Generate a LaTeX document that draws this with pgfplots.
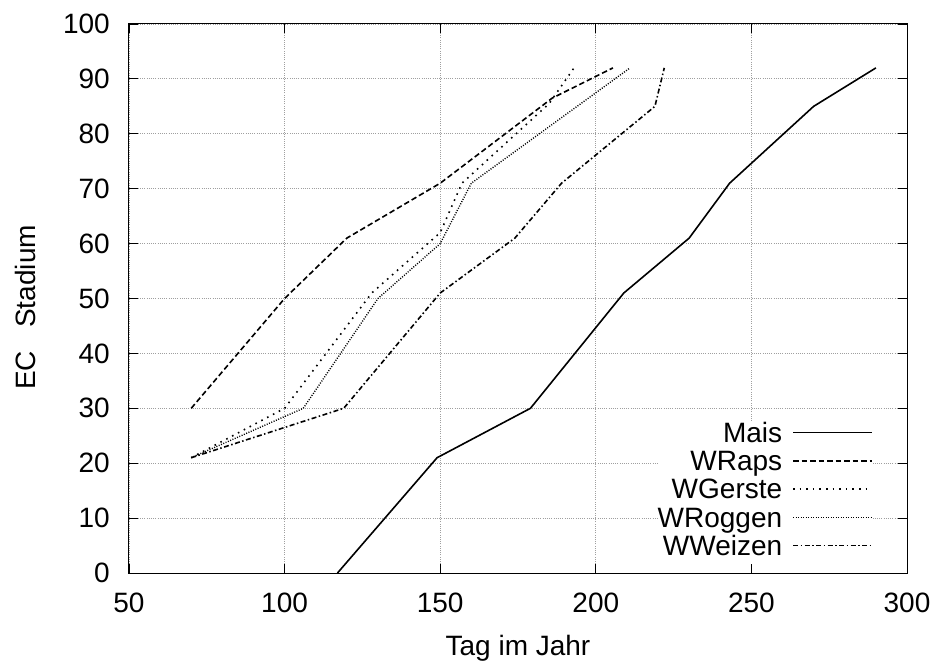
\documentclass[border=0pt]{standalone}
\usepackage{pgfplots}
\pgfplotsset{compat=1.18}
\usepackage{fontspec}
\setmainfont{Liberation Sans}
\begin{document}
\begin{tikzpicture}
\useasboundingbox (-129bp,-89bp) rectangle (806bp,573bp);
\begin{axis}[
  at={(0,0)}, anchor=south west,
  scale only axis, width=778bp, height=549bp,
  xmin=50, xmax=300, ymin=0, ymax=100,
  xtick={50,100,...,300}, ytick={0,10,...,100},
  tick pos=both, tick align=inside,
  major tick length=8.7bp,
  every tick/.style={black, line width=0.9bp},
  axis line style={black, line width=1bp},
  grid=major,
  grid style={gray!75, line width=0.8bp, dash pattern=on 1bp off 1.2bp},
  /pgf/number format/assume math mode=true,
  tick label style={font=\fontsize{28bp}{33bp}\selectfont},
  yticklabel style={inner sep=0pt, xshift=-19bp, anchor=east},
  xticklabel style={inner sep=0pt, yshift=-20bp, anchor=north},
  xlabel={Tag im Jahr},
  ylabel={EC\ \ \ Stadium},
  every axis x label/.style={at={([yshift=-82bp]axis description cs:0.5,0)}, anchor=base, font=\fontsize{28bp}{33bp}\selectfont},
  every axis y label/.style={at={([xshift=-93bp]axis description cs:0,0.4836)}, rotate=90, anchor=base, font=\fontsize{28bp}{33bp}\selectfont},
  legend plot pos=right,
  legend cell align=right,
  legend style={at={(0.9563,0.0164)}, anchor=south east, draw=none, fill=white,
    inner sep=0pt, row sep=0pt, column sep=10bp,
    font=\fontsize{28bp}{33bp}\selectfont,
    nodes={inner xsep=0pt, inner ysep=0pt, text height=20bp, text depth=8.3bp}},
  legend image code/.code={\draw[#1] (0bp,4bp) -- (79bp,4bp);},
]
\addplot[black, line width=1.6bp] coordinates {
(117,0) (149,21) (179,30) (209,51) (230,61) (243,71) (270,85) (290,92)};
\addlegendentry{Mais}
\addplot[black, line width=1.6bp, dash pattern=on 5.5bp off 3bp] coordinates {
(70,30) (100,50) (120,61) (150,71) (186,86.5) (205.5,92)};
\addlegendentry{WRaps}
\addplot[black, line width=1.6bp, dash pattern=on 1.6bp off 5bp] coordinates {
(70,21) (100,30) (128,51) (150,62) (157,71) (185,85.5) (193,92)};
\addlegendentry{WGerste}
\addplot[black, line width=1.4bp, dash pattern=on 1bp off 1.5bp] coordinates {
(70,21) (106,30) (130,50) (150,60) (160,71) (211,92)};
\addlegendentry{WRoggen}
\addplot[black, line width=1.6bp, dash pattern=on 5bp off 2.5bp on 1.5bp off 2.5bp] coordinates {
(70,21) (119,30) (150,51) (174,61) (189,71) (219,85) (222,92)};
\addlegendentry{WWeizen}
\end{axis}
\end{tikzpicture}
\end{document}
